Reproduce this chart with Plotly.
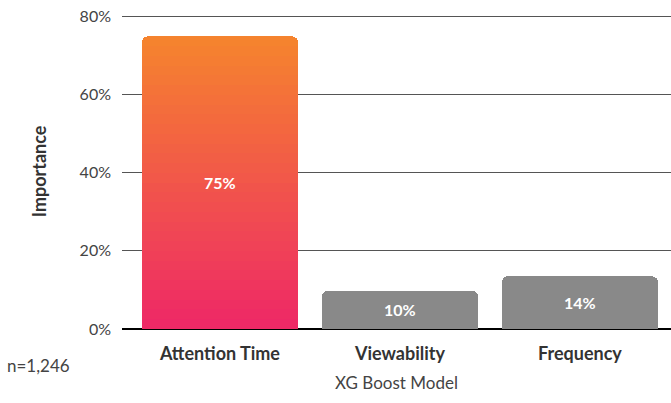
import plotly.graph_objects as go

categories = ["Attention Time", "Viewability", "Frequency"]
importance = [74.9, 9.8, 13.5]
labels = ["75%", "10%", "14%"]
y_ticks = [0, 20, 40, 60, 80]
y_tick_labels = ["0%", "20%", "40%", "60%", "80%"]
sample_note = "n=1,246"

FONT = "Lato, 'Noto Sans', sans-serif"
TOP_COLOR = (245, 131, 46)
BOTTOM_COLOR = (238, 41, 102)
GRAY = "#898989"

fig = go.Figure()

fig.add_trace(go.Bar(
    x=categories[1:], y=importance[1:],
    marker=dict(color=GRAY, line=dict(width=0)),
    width=0.867, showlegend=False,
))

# gradient bar: split into stacked slices with interpolated colour
N = 30
v0 = importance[0]
for i in range(N):
    t = i / (N - 1)
    c = tuple(round(BOTTOM_COLOR[k] + (TOP_COLOR[k] - BOTTOM_COLOR[k]) * t) for k in range(3))
    fig.add_trace(go.Bar(
        x=[categories[0]], y=[v0 / N],
        marker=dict(color="rgb(%d,%d,%d)" % c, line=dict(width=0)),
        width=0.867, showlegend=False, hoverinfo="skip",
    ))

for cat, v, lab in zip(categories, importance, labels):
    fig.add_annotation(x=cat, y=v / 2, text="<b>%s</b>" % lab, showarrow=False,
                       font=dict(family=FONT, size=16, color="white"),
                       xref="x", yref="y")

fig.add_annotation(x=-0.2131, y=-0.1166, xref="paper", yref="paper",
                   text=sample_note, showarrow=False, xanchor="left", yanchor="middle",
                   font=dict(family=FONT, size=17, color="#444"))

fig.update_layout(
    width=671, height=403,
    margin=dict(l=122, r=0, t=14, b=73.5),
    paper_bgcolor="white", plot_bgcolor="white",
    barmode="stack", barcornerradius=6,
    font=dict(family=FONT, color="#444"),
    xaxis=dict(
        range=[-0.544, 2.506], automargin=False,
        categoryorder="array", categoryarray=categories,
        tickfont=dict(family=FONT, size=18, color="#333", weight="bold"),
        ticklabelstandoff=12,
        showgrid=False, showline=False, zeroline=False,
        title=dict(text="XG Boost Model", font=dict(family=FONT, size=17, color="#444"), standoff=14),
    ),
    yaxis=dict(
        range=[0, 80.6], tickvals=y_ticks, ticktext=y_tick_labels, automargin=False,
        tickfont=dict(family=FONT, size=16, color="#444"),
        ticklabelstandoff=10,
        showgrid=True, gridcolor="#555", gridwidth=1,
        zeroline=True, zerolinecolor="#000", zerolinewidth=2,
        showline=False,
        title=dict(text="<b>Importance</b>", font=dict(family=FONT, size=18, color="#333"), standoff=28),
    ),
)

fig.write_html("out.html", config={"displayModeBar": False},
               post_script="document.body.style.margin='0';")
